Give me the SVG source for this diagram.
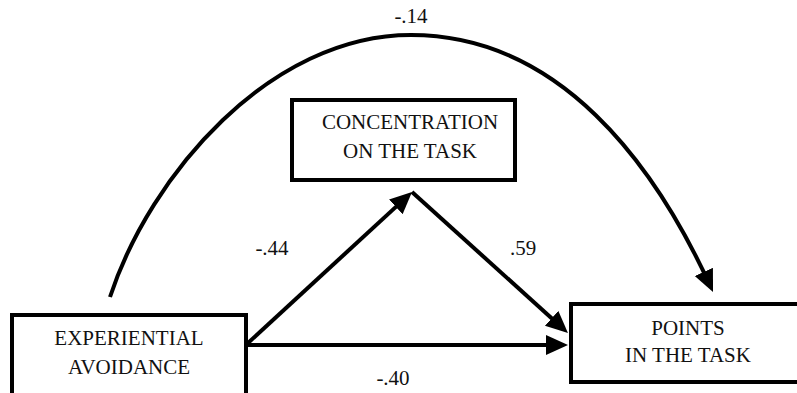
<svg xmlns="http://www.w3.org/2000/svg" width="797" height="393" viewBox="0 0 797 393">
<style>
.box{fill:#fff;stroke:#000;stroke-width:4}
.t{font-family:"Liberation Serif","Times New Roman",serif;font-size:21px;fill:#111;text-anchor:middle}
.c{fill:none;stroke:#000;stroke-width:4}
</style>
<defs>
<marker id="ah" markerUnits="userSpaceOnUse" markerWidth="24" markerHeight="22" refX="16" refY="10" orient="auto">
<path d="M0,0 L22,10 L0,20 z" fill="#000"/>
</marker>
</defs>
<rect width="797" height="393" fill="#fff"/>
<g id="connectors">
<path class="c" d="M110,297 C150,175 270,35 411,35 C560,35 655,165 710.5,286.5" marker-end="url(#ah)"/>
<line class="c" x1="248" y1="343" x2="407.6" y2="196.1" marker-end="url(#ah)"/>
<line class="c" x1="412" y1="192" x2="563.5" y2="329" marker-end="url(#ah)"/>
<line class="c" x1="248" y1="345" x2="562" y2="345" marker-end="url(#ah)"/>
<text class="t" x="411" y="23">-.14</text>
<text class="t" x="272" y="255">-.44</text>
<text class="t" x="523" y="255">.59</text>
<text class="t" x="393" y="385">-.40</text>
</g>
<g id="concentration">
<rect class="box" x="292" y="100" width="223" height="80"/>
<text class="t" x="410" y="129">CONCENTRATION</text>
<text class="t" x="410" y="158">ON THE TASK</text>
</g>
<g id="experiential">
<rect class="box" x="12" y="315" width="234" height="90"/>
<text class="t" x="129" y="345">EXPERIENTIAL</text>
<text class="t" x="129" y="374">AVOIDANCE</text>
</g>
<g id="points">
<rect class="box" x="571" y="304" width="240" height="78"/>
<text class="t" x="688" y="335">POINTS</text>
<text class="t" x="688" y="362">IN THE TASK</text>
</g>
</svg>
